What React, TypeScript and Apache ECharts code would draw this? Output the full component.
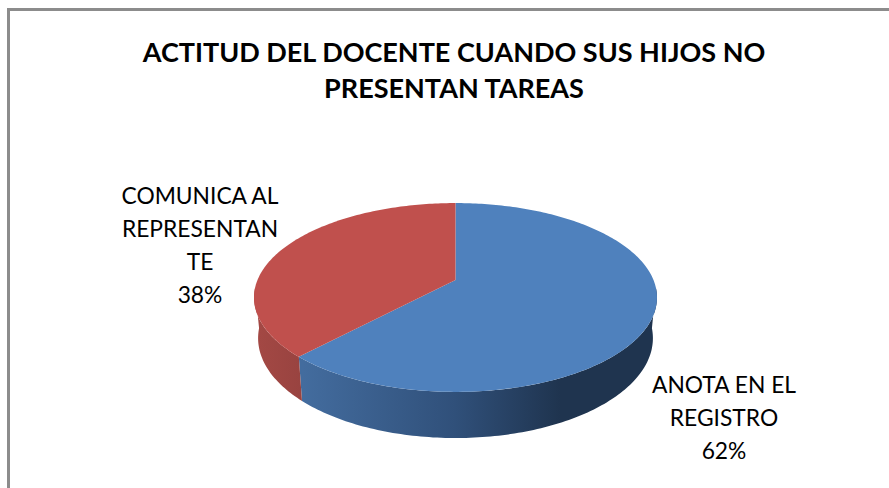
import React, { useEffect, useRef } from "react";
import * as echarts from "echarts";

const TITLE_TEXT = "ACTITUD DEL DOCENTE CUANDO SUS HIJOS NO\nPRESENTAN TAREAS";
const sliceNames = ["ANOTA EN EL\nREGISTRO", "COMUNICA AL\nREPRESENTAN\nTE"];
const sliceValues = [62, 38];
const topColors = ["#4F81BD", "#C0504D"];
const FONT = "Lato, Carlito, sans-serif";

// Projective disc: u,v on the unit circle -> screen.
const CX = 455.5;
const PERSP = 0.185;
const topDisc = { A: 198, a: -39.4, b: 280 };
const bottomDisc = { A: 194, a: -37.3, b: 319.7 };
const labelAnchors = [
  { x: 724, y: 367 },
  { x: 200, y: 178 },
];

type Disc = { A: number; a: number; b: number };
const project = (d: Disc, deg: number): number[] => {
  const r = (deg * Math.PI) / 180;
  const u = Math.sin(r);
  const v = Math.cos(r);
  const w = PERSP * v + 1;
  return [CX + (d.A * u) / w, (d.a * v + d.b) / w];
};
const arc = (d: Disc, from: number, to: number): number[][] => {
  const n = Math.max(2, Math.ceil(Math.abs(to - from)));
  const pts: number[][] = [];
  for (let i = 0; i <= n; i++) pts.push(project(d, from + ((to - from) * i) / n));
  return pts;
};

const sideGradients = [
  [
    [303, "#436c9e"],
    [455, "#30507a"],
    [560, "#1f344f"],
    [657, "#1f344f"],
  ],
  [
    [258, "#a34844"],
    [303, "#984340"],
  ],
];

export default function App() {
  const ref = useRef<HTMLDivElement>(null);
  useEffect(() => {
    document.body.style.margin = "0";
    const chart = echarts.init(ref.current!, undefined, { renderer: "svg" });
    const total = sliceValues.reduce((s, v) => s + v, 0);
    const data = sliceValues.map((value, i) => ({ name: sliceNames[i], value }));
    chart.setOption({
      animation: false,
      backgroundColor: "#ffffff",
      title: {
        text: TITLE_TEXT,
        left: 449,
        top: 28,
        textAlign: "center",
        textStyle: { fontFamily: FONT, fontWeight: "bold", fontSize: 27, lineHeight: 36, color: "#000" },
      },
      graphic: [
        {
          type: "rect",
          silent: true,
          z: -1,
          shape: { x: 8.5, y: 9.5, width: 1000, height: 1000 },
          style: { fill: "none", stroke: "#8c8c8c", lineWidth: 3 },
        },
      ],
      series: [
        {
          type: "custom",
          coordinateSystem: "none",
          data,
          renderItem: (params: any, api: any) => {
            const i = params.dataIndex;
            const value = api.value(0);
            const before = sliceValues.slice(0, i).reduce((s, v) => s + v, 0);
            const start = (before / total) * 360;
            const end = ((before + value) / total) * 360;
            const children: any[] = [];
            const from = Math.max(start, 95);
            const to = Math.min(end, 265);
            if (to > from) {
              const pts = [...arc(topDisc, from, to), ...arc(bottomDisc, to, from)];
              const stops = sideGradients[i];
              const x0 = stops[0][0] as number;
              const x1 = stops[stops.length - 1][0] as number;
              children.push({
                type: "polygon",
                shape: { points: pts },
                style: {
                  fill: new echarts.graphic.LinearGradient(
                    x0,
                    0,
                    x1,
                    0,
                    stops.map((s) => ({ offset: ((s[0] as number) - x0) / (x1 - x0), color: s[1] as string })),
                    true
                  ),
                },
              });
            }
            children.push({
              type: "polygon",
              z2: 10,
              shape: { points: [[CX, topDisc.b], ...arc(topDisc, start, end)] },
              style: { fill: topColors[i] },
            });
            const pct = Math.round((value / total) * 100);
            children.push({
              type: "text",
              z2: 20,
              x: labelAnchors[i].x,
              y: labelAnchors[i].y,
              style: {
                text: `${sliceNames[i]}\n${pct}%`,
                fontFamily: FONT,
                fontSize: 22.8,
                lineHeight: 33,
                fill: "#000",
                align: "center",
                verticalAlign: "top",
              },
            });
            return { type: "group", children };
          },
        },
      ],
    });
    return () => chart.dispose();
  }, []);
  return <div ref={ref} style={{ width: 889, height: 488, position: "absolute", left: 0, top: 0 }} />;
}
